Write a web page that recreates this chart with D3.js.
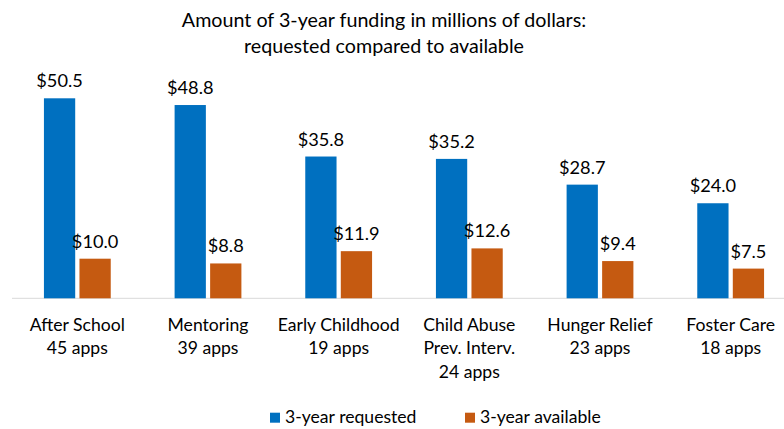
<!DOCTYPE html>
<html>
<head>
<meta charset="utf-8">
<script src="https://cdn.jsdelivr.net/npm/d3@7"></script>
<style>
  body { margin: 0; background: #fff; }
  svg { display: block; font-family: Lato, "Open Sans", sans-serif; }
</style>
</head>
<body>
<svg id="chart" width="784" height="429"></svg>
<script>
const categories = [
  ["After School", "45 apps"],
  ["Mentoring", "39 apps"],
  ["Early Childhood", "19 apps"],
  ["Child Abuse", "Prev. Interv.", "24 apps"],
  ["Hunger Relief", "23 apps"],
  ["Foster Care", "18 apps"]
]
const requested = [50.5, 48.8, 35.8, 35.2, 28.7, 24.0]
const available = [10.0, 8.8, 11.9, 12.6, 9.4, 7.5]
const seriesNames = ["3-year requested", "3-year available"]
const colors = ["#0070C0", "#C55A11"]
const titleLines = ["Amount of 3-year funding in millions of dollars:", "requested compared to available"]

const svg = d3.select("#chart")
const width = 784, height = 429
const baseline = 298.3

// Category band: the plot area runs a little past the right edge
const x = d3.scaleBand()
  .domain(d3.range(categories.length))
  .range([12, 796])

const inner = d3.scaleBand()
  .domain([0, 1])
  .range([x.bandwidth() / 2 - 33.4, x.bandwidth() / 2 + 33.4])
  .paddingInner(0.12)

const y = d3.scaleLinear()
  .domain([0, 50.5])
  .range([baseline, 98.3])

// Title
svg.append("g")
  .selectAll("text")
  .data(titleLines)
  .enter()
  .append("text")
  .attr("x", 384)
  .attr("y", (d, i) => 27 + i * 26)
  .attr("text-anchor", "middle")
  .attr("font-size", 19.7)
  .attr("fill", "#000")
  .text(d => d)

// Axis line
svg.append("line")
  .attr("x1", 12).attr("x2", 784)
  .attr("y1", baseline).attr("y2", baseline)
  .attr("stroke", "#D9D9D9")
  .attr("stroke-width", 1)

const rows = categories.map((c, i) => [requested[i], available[i]])

const groups = svg.append("g")
  .selectAll("g")
  .data(rows)
  .enter()
  .append("g")
  .attr("transform", (d, i) => `translate(${x(i)},0)`)

groups.selectAll("rect")
  .data(d => d)
  .enter()
  .append("rect")
  .attr("x", (d, j) => inner(j))
  .attr("width", inner.bandwidth())
  .attr("y", d => y(d))
  .attr("height", d => baseline - y(d))
  .attr("fill", (d, j) => colors[j])

groups.selectAll("text.value")
  .data(d => d)
  .enter()
  .append("text")
  .attr("class", "value")
  .attr("x", (d, j) => inner(j) + inner.bandwidth() / 2)
  .attr("y", d => y(d) - 11)
  .attr("text-anchor", "middle")
  .attr("font-size", 18.2)
  .attr("fill", "#000")
  .text(d => "$" + d3.format(".1f")(d))

// Category labels
groups.append("text")
  .attr("text-anchor", "middle")
  .attr("font-size", 17.6)
  .attr("fill", "#000")
  .selectAll("tspan")
  .data((d, i) => categories[i])
  .enter()
  .append("tspan")
  .attr("x", x.bandwidth() / 2)
  .attr("y", (d, k) => 330.5 + k * 23.5)
  .text(d => d)

// Legend
const legendX = [270, 465]
const legend = svg.append("g")
  .selectAll("g")
  .data(seriesNames)
  .enter()
  .append("g")
  .attr("transform", (d, i) => `translate(${legendX[i]},412.7)`)

legend.append("rect")
  .attr("width", 10)
  .attr("height", 10)
  .attr("fill", (d, i) => colors[i])

legend.append("text")
  .attr("x", 15)
  .attr("y", 10)
  .attr("font-size", 17.6)
  .attr("fill", "#000")
  .text(d => d)
</script>
</body>
</html>
